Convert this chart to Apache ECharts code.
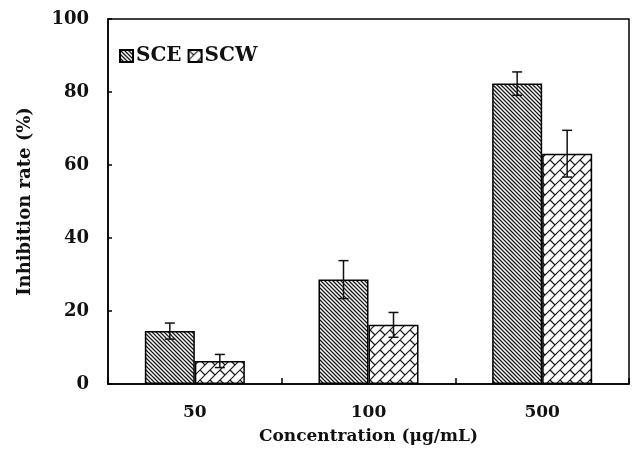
<!DOCTYPE html>
<html>
<head>
<meta charset="utf-8">
<script src="https://cdn.jsdelivr.net/npm/echarts@6/dist/echarts.min.js"></script>
<style>
html,body{margin:0;padding:0;background:#fff;}
#chart{width:634px;height:452px;}
</style>
</head>
<body>
<div id="chart"></div>
<script>
// ---- data ----
const categories = ['50', '100', '500'];
const sceValues = [14.5, 28.6, 82.3];
const sceErrors = [2.2, 5.2, 3.2];
const scwValues = [6.3, 16.2, 63.1];
const scwErrors = [1.8, 3.4, 6.4];
const yTicks = [0, 20, 40, 60, 80, 100];

// ---- fill patterns ----
function stripePattern() {
  const s = 16, c = document.createElement('canvas');
  c.width = s; c.height = s;
  const g = c.getContext('2d');
  g.fillStyle = '#fff'; g.fillRect(0, 0, s, s);
  g.strokeStyle = '#1a1a1a'; g.lineWidth = 1.3;
  for (let x0 = -s; x0 <= s; x0 += 4) {
    g.beginPath(); g.moveTo(x0 - 2, -2); g.lineTo(x0 + s + 2, s + 2); g.stroke();
  }
  return c;
}
function brickPattern() {
  const s = 40, c = document.createElement('canvas');
  c.width = s; c.height = s;
  const g = c.getContext('2d');
  g.fillStyle = '#fff'; g.fillRect(0, 0, s, s);
  const r = Math.SQRT1_2;
  g.setTransform(r, -r, r, r, 0, 0);
  const h = 5 * Math.SQRT2, L = 2 * h;
  g.strokeStyle = '#1a1a1a'; g.lineWidth = 1.2;
  for (let k = -3; k <= 14; k++) {
    const v = k * h;
    g.beginPath(); g.moveTo(-80, v); g.lineTo(80, v); g.stroke();
    const off = (((k % 2) + 2) % 2) ? L / 2 : 0;
    for (let m = -8; m <= 8; m++) {
      const u = m * L + off;
      g.beginPath(); g.moveTo(u, v); g.lineTo(u, v + h); g.stroke();
    }
  }
  return c;
}
const scePattern = { image: stripePattern(), repeat: 'repeat' };
const scwPattern = { image: brickPattern(), repeat: 'repeat' };

const FONT = 'DejaVu Serif';
const BAR_W = 0.288;

function errData(vals, errs) {
  return vals.map((v, i) => [i, v, errs[i]]);
}
function errRenderer(sign) {
  return function (params, api) {
    const band = api.size([1, 0])[0];
    const off = sign * band * BAR_W / 2;
    const i = api.value(0), v = api.value(1), e = api.value(2);
    const top = api.coord([i, v + e]);
    const bot = api.coord([i, v - e]);
    const x = top[0] + off;
    const cap = 5;
    const st = { stroke: '#111', lineWidth: 1.5 };
    return {
      type: 'group',
      children: [
        { type: 'line', shape: { x1: x, y1: top[1], x2: x, y2: bot[1] }, style: st },
        { type: 'line', shape: { x1: x - cap, y1: top[1], x2: x + cap, y2: top[1] }, style: st },
        { type: 'line', shape: { x1: x - cap, y1: bot[1], x2: x + cap, y2: bot[1] }, style: st }
      ]
    };
  };
}

const chart = echarts.init(document.getElementById('chart'), null, { renderer: 'canvas' });
chart.setOption({
  backgroundColor: '#fff',
  animation: false,
  grid: {
    left: 108, right: 5, top: 19, bottom: 68,
    show: true, borderColor: '#000', borderWidth: 1.5, backgroundColor: 'transparent'
  },
  legend: {
    data: ['SCE', 'SCW'],
    left: 114, top: 41,
    itemWidth: 13, itemHeight: 12, itemGap: 6,
    icon: 'rect',
    textStyle: { fontFamily: FONT, fontWeight: 'bold', fontSize: 20, color: '#111', padding: [0, 0, 0, -2] }
  },
  xAxis: {
    type: 'category',
    data: categories,
    name: 'Concentration (μg/mL)',
    nameLocation: 'middle',
    nameGap: 44,
    nameTextStyle: { fontFamily: FONT, fontWeight: 'bold', fontSize: 17, color: '#111' },
    axisLine: { lineStyle: { color: '#000', width: 1.5 } },
    axisTick: { show: true, inside: true, length: 6, lineStyle: { color: '#000', width: 1.5 } },
    axisLabel: { fontFamily: FONT, fontWeight: 'bold', fontSize: 17, color: '#111', margin: 20 },
    splitLine: { show: false }
  },
  yAxis: {
    type: 'value',
    min: yTicks[0], max: yTicks[yTicks.length - 1], interval: yTicks[1] - yTicks[0],
    name: 'Inhibition rate (%)',
    nameLocation: 'middle',
    nameGap: 74,
    nameTextStyle: { fontFamily: FONT, fontWeight: 'bold', fontSize: 18, color: '#111' },
    axisLine: { show: true, lineStyle: { color: '#000', width: 1.5 } },
    axisTick: { show: true, inside: true, length: 4, lineStyle: { color: '#000', width: 1.5 } },
    axisLabel: { fontFamily: FONT, fontWeight: 'bold', fontSize: 18, color: '#111', margin: 19 },
    splitLine: { show: false }
  },
  series: [
    {
      name: 'SCE', type: 'bar', data: sceValues,
      barWidth: (BAR_W * 100) + '%', barGap: '0%',
      itemStyle: { color: scePattern, borderColor: '#000', borderWidth: 1.5 }
    },
    {
      name: 'SCW', type: 'bar', data: scwValues,
      barWidth: (BAR_W * 100) + '%', barGap: '0%',
      itemStyle: { color: scwPattern, borderColor: '#000', borderWidth: 1.5 }
    },
    {
      type: 'custom', name: 'SCE err', data: errData(sceValues, sceErrors),
      encode: { x: 0, y: 1 }, z: 10, renderItem: errRenderer(-1), silent: true
    },
    {
      type: 'custom', name: 'SCW err', data: errData(scwValues, scwErrors),
      encode: { x: 0, y: 1 }, z: 10, renderItem: errRenderer(1), silent: true
    }
  ]
});
</script>
</body>
</html>
